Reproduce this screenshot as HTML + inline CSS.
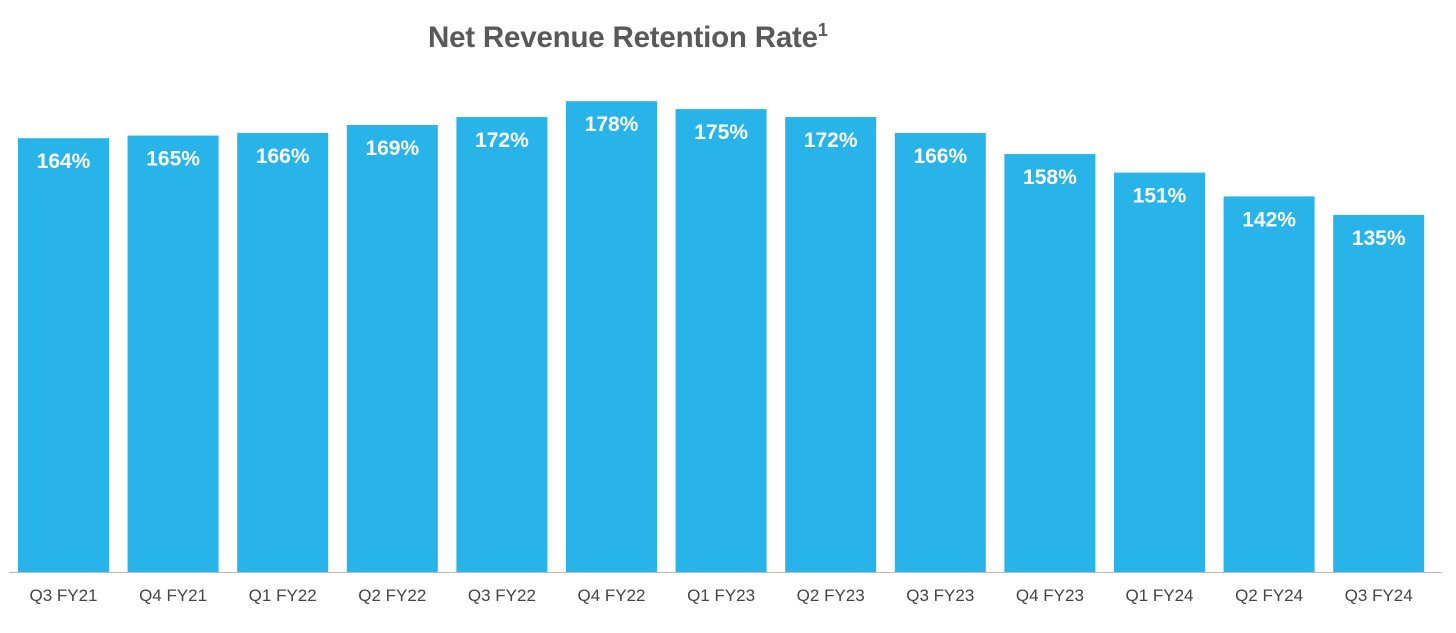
<!DOCTYPE html>
<html><head><meta charset="utf-8"><style>
body{margin:0;background:#fff;width:1456px;height:628px;overflow:hidden;font-family:"Liberation Sans",Arial,sans-serif}
</style></head><body>
<svg id="chart" width="1456" height="628" xmlns="http://www.w3.org/2000/svg">
<text x="428" y="47" font-size="29.5" font-weight="bold" fill="#595959" letter-spacing="-0.2">Net Revenue Retention Rate<tspan font-size="18" dy="-11">1</tspan></text>
<g id="bars"></g>
<line x1="9" y1="572.5" x2="1442" y2="572.5" stroke="#bfb8b5" stroke-width="1"/>
</svg>
<script>
const categories=["Q3 FY21","Q4 FY21","Q1 FY22","Q2 FY22","Q3 FY22","Q4 FY22","Q1 FY23","Q2 FY23","Q3 FY23","Q4 FY23","Q1 FY24","Q2 FY24","Q3 FY24"];
const values=[164,165,166,169,172,178,175,172,166,158,151,142,135];
const valueLabels=["164%","165%","166%","169%","172%","178%","175%","172%","166%","158%","151%","142%","135%"];
const baseY=572, pxPer=2.645, x0=18, pitch=109.6, bw=91;
function xPos(i){return x0+i*pitch;}
function yPos(v){return baseY-v*pxPer;}
const g=document.getElementById('bars');
const NS="http://www.w3.org/2000/svg";
categories.forEach((c,i)=>{
  const v=values[i], x=xPos(i), y=yPos(v);
  const r=document.createElementNS(NS,'rect');
  
  
  r.setAttribute('x',x);r.setAttribute('y',y);r.setAttribute('width',bw);r.setAttribute('height',baseY-y);
  r.setAttribute('fill','#28b4e8');
  g.appendChild(r);
  const t=document.createElementNS(NS,'text');
  
  
  t.setAttribute('x',x+bw/2);t.setAttribute('y',y+30);
  t.setAttribute('text-anchor','middle');t.setAttribute('font-size','21');t.setAttribute('font-weight','bold');t.setAttribute('fill','#fff');
  t.textContent=valueLabels[i];
  g.appendChild(t);
  const l=document.createElementNS(NS,'text');
  
  
  l.setAttribute('x',x+bw/2);l.setAttribute('y',601);
  l.setAttribute('text-anchor','middle');l.setAttribute('font-size','17');l.setAttribute('fill','#444');
  l.textContent=c;
  g.appendChild(l);
});
</script>
</body></html>
